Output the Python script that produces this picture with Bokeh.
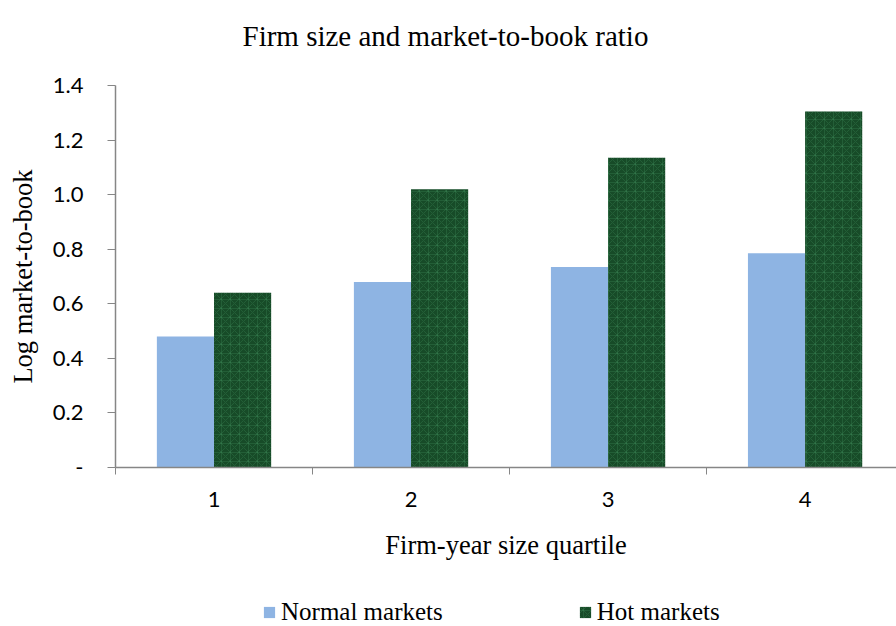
from bokeh.plotting import figure
from bokeh.layouts import column
from bokeh.models import (Range1d, FixedTicker, Legend, LegendItem, Label,
                          ColumnDataSource)
from bokeh.transform import dodge
from bokeh.embed import file_html
from bokeh.resources import INLINE

# ---- data ----
quartiles = [1, 2, 3, 4]
quartile_labels = ["1", "2", "3", "4"]
normal_markets = [0.48, 0.68, 0.735, 0.785]
hot_markets = [0.64, 1.02, 1.135, 1.305]
y_ticks = [0, 0.2, 0.4, 0.6, 0.8, 1.0, 1.2, 1.4]
y_tick_labels = ["-", "0.2", "0.4", "0.6", "0.8", "1.0", "1.2", "1.4"]
series_names = ["Normal markets", "Hot markets"]
chart_title = "Firm size and market-to-book ratio"

SERIF = "Liberation Serif"
SANS = "Lato"
AXIS_GRAY = "#868686"
NORMAL_COLOR = "#8EB4E3"
HOT_COLOR = "#174b28"
HOT_HATCH = dict(hatch_pattern="criss_cross", hatch_color="#3f8a58",
                 hatch_alpha=0.3, hatch_scale=9, hatch_weight=1)

src = ColumnDataSource(dict(q=quartiles, normal=normal_markets, hot=hot_markets))

W = 896
LEFT = 115
FRAME_W = W - LEFT
H_TOP = 60
H_MAIN = 530
H_LEG = 626 - H_TOP - H_MAIN
FRAME_TOP = 85
FRAME_BOTTOM = 467


def strip(height):
    f = figure(width=W, height=height, output_backend="svg", toolbar_location=None,
               x_range=Range1d(0, FRAME_W), y_range=Range1d(0, height),
               x_axis_type=None, y_axis_type=None,
               min_border_left=LEFT, min_border_right=0, min_border_top=0,
               min_border_bottom=0, outline_line_color=None,
               background_fill_color="white", border_fill_color="white")
    f.xgrid.visible = False
    f.ygrid.visible = False
    return f


# ---- title strip ----
pt = strip(H_TOP)
pt.add_layout(Label(x=242 - LEFT, y=H_TOP - 35, text=chart_title,
                    text_font=SERIF, text_font_size="29px", text_color="black",
                    text_baseline="alphabetic", text_align="left"))

# ---- main chart ----
p = figure(width=W, height=H_MAIN, output_backend="svg", toolbar_location=None,
           x_range=Range1d(0.5, 4.464), y_range=Range1d(0, 1.4),
           min_border_left=LEFT, min_border_right=0,
           min_border_top=FRAME_TOP - H_TOP,
           min_border_bottom=H_TOP + H_MAIN - FRAME_BOTTOM,
           outline_line_color=None,
           background_fill_color="white", border_fill_color="white")

bw = 0.29
r_normal = p.vbar(x=dodge("q", -bw / 2, range=p.x_range), top="normal", width=bw,
                  source=src, fill_color=NORMAL_COLOR, line_color=None)
r_hot = p.vbar(x=dodge("q", bw / 2, range=p.x_range), top="hot", width=bw,
               source=src, fill_color=HOT_COLOR, line_color=None, **HOT_HATCH)

p.xgrid.visible = False
p.ygrid.visible = False

# x axis
xa = p.xaxis[0]
xa.ticker = FixedTicker(ticks=quartiles, minor_ticks=[0.5, 1.5, 2.5, 3.5, 4.5])
xa.major_label_overrides = dict(zip(quartiles, quartile_labels))
xa.major_tick_out = 0
xa.major_tick_in = 0
xa.minor_tick_out = 7
xa.minor_tick_in = 0
xa.minor_tick_line_color = AXIS_GRAY
xa.axis_line_color = AXIS_GRAY
xa.axis_line_width = 1.5
xa.major_label_text_font = SANS
xa.major_label_text_font_size = "22px"
xa.major_label_text_color = "black"
xa.major_label_standoff = 17
xa.axis_label = "Firm-year size quartile"
xa.axis_label_text_font = SERIF
xa.axis_label_text_font_size = "26.5px"
xa.axis_label_text_font_style = "normal"
xa.axis_label_text_color = "black"
xa.axis_label_standoff = 20

# y axis
ya = p.yaxis[0]
ya.ticker = FixedTicker(ticks=y_ticks, minor_ticks=[])
ya.major_label_overrides = dict(zip(y_ticks, y_tick_labels))
ya.major_tick_out = 8
ya.major_tick_in = 0
ya.major_tick_line_color = AXIS_GRAY
ya.axis_line_color = AXIS_GRAY
ya.axis_line_width = 1.5
ya.major_label_text_font = SANS
ya.major_label_text_font_size = "22px"
ya.major_label_text_color = "black"
ya.major_label_standoff = 24
ya.axis_label = "Log market-to-book"
ya.axis_label_text_font = SERIF
ya.axis_label_text_font_size = "26.5px"
ya.axis_label_text_font_style = "normal"
ya.axis_label_text_color = "black"
ya.axis_label_standoff = 12

# ---- legend strip (its bars sit outside the visible ranges) ----
pl = strip(H_LEG)
pl.x_range = Range1d(100, 101)
pl.y_range = Range1d(100, 101)
l_normal = pl.vbar(x="q", top="normal", width=bw, source=src,
                   fill_color=NORMAL_COLOR, line_color=None)
l_hot = pl.vbar(x="q", top="hot", width=bw, source=src,
                fill_color=HOT_COLOR, line_color=None, **HOT_HATCH)
legend = Legend(items=[LegendItem(label=series_names[0], renderers=[l_normal]),
                       LegendItem(label=series_names[1], renderers=[l_hot])],
                orientation="horizontal", location=(262 - LEFT, 0),
                label_text_font=SERIF, label_text_font_size="25px",
                label_text_color="black", glyph_width=14, glyph_height=14,
                label_standoff=5, spacing=135, border_line_color=None,
                background_fill_alpha=0, padding=0, margin=0)
pl.add_layout(legend, "center")

layout = column(pt, p, pl, spacing=0)
open("out.html", "w").write(file_html(layout, INLINE))
